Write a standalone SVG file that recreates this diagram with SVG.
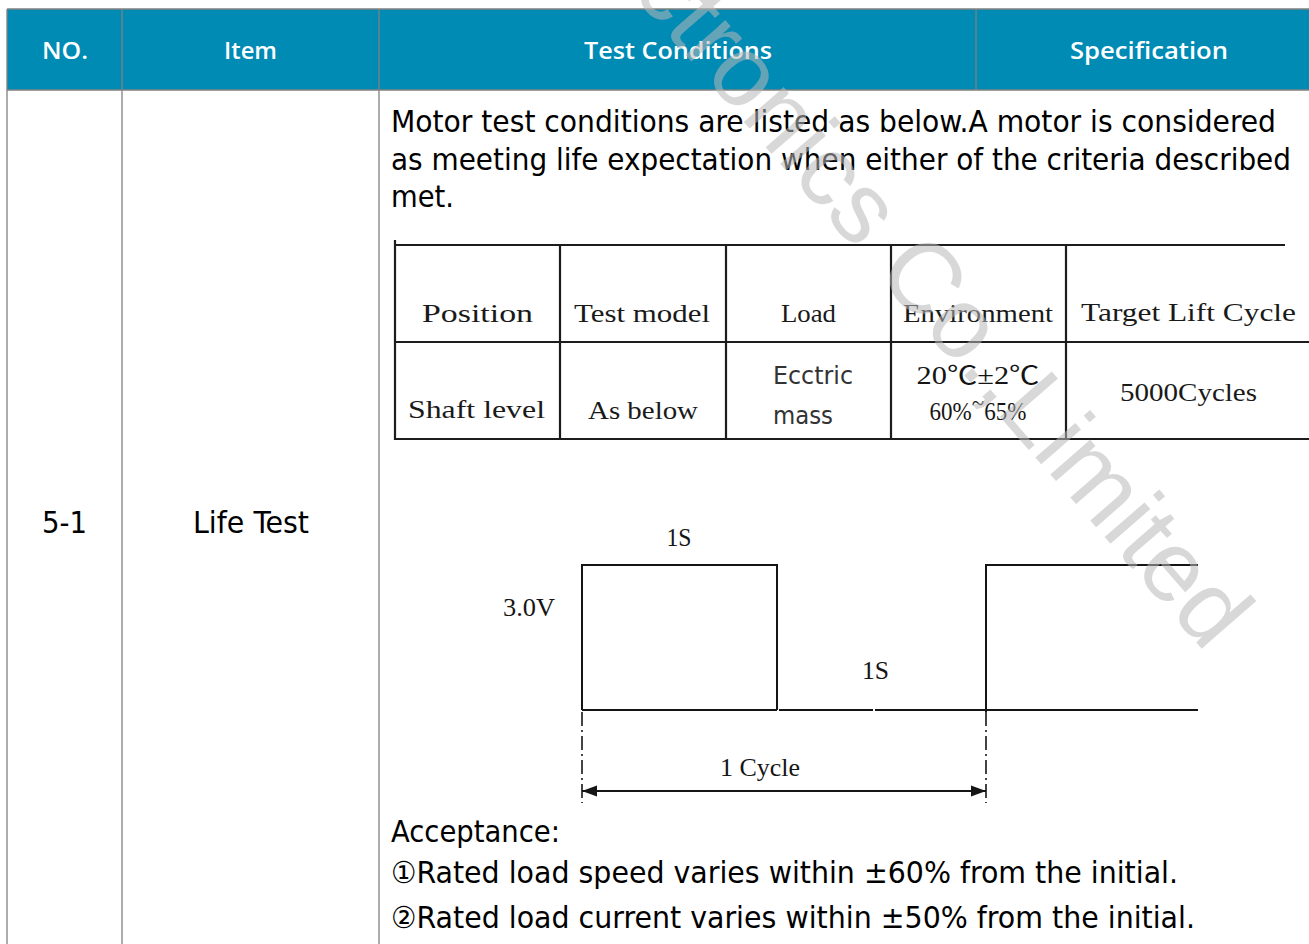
<svg xmlns="http://www.w3.org/2000/svg" width="1309" height="944" viewBox="0 0 1309 944">
  <defs>
    <style>
      .hdr { font-family: "Open Sans", "Liberation Sans", sans-serif; font-weight: 600; font-size: 24px; fill: #ffffff; text-anchor: middle; }
      .body { font-family: "DejaVu Sans Condensed", "DejaVu Sans", "Noto Sans CJK SC", sans-serif; font-size: 30px; fill: #000000; }
      .mono { font-family: "Liberation Serif", "Noto Sans CJK SC", serif; font-size: 26px; fill: #1a1a1a; text-anchor: middle; }
      .serif { font-family: "Liberation Serif", "Noto Sans CJK SC", serif; font-size: 25px; fill: #151515; text-anchor: middle; }
      .sans { font-family: "DejaVu Sans Condensed", "DejaVu Sans", sans-serif; font-size: 24px; fill: #333333; }
      .grid { stroke: #808080; stroke-width: 1.3; fill: none; }
      .rule { stroke: #1c1c1c; stroke-width: 2.2; fill: none; }
      .ink { stroke: #151515; stroke-width: 2; fill: none; }
      .dashdot { stroke: #151515; stroke-width: 1.6; fill: none; stroke-dasharray: 14 4 2 4; }
      .mark { font-family: "Liberation Sans", "Open Sans", sans-serif; font-size: 100px; fill: #b8b8b8; fill-opacity: 0.55; }
    </style>
    <marker id="arrow" viewBox="0 0 15 12" markerUnits="userSpaceOnUse" markerWidth="15" markerHeight="12" refX="15" refY="6" orient="auto-start-reverse">
      <path d="M0,0.5 L15,6 L0,11.5 z" fill="#151515"/>
    </marker>
  </defs>

  <rect width="1309" height="944" fill="#ffffff"/>

  <!-- header band -->
  <g id="header">
    <rect x="7" y="9" width="1302" height="81" fill="#008bb5"/>
    <line class="grid" x1="7" y1="9" x2="1309" y2="9"/>
    <line class="grid" x1="7" y1="90" x2="1309" y2="90"/>
    <line class="grid" x1="976" y1="9" x2="976" y2="90"/>
    <text class="hdr" x="65" y="59" textLength="46" lengthAdjust="spacingAndGlyphs">NO.</text>
    <text class="hdr" x="250.5" y="59" textLength="53" lengthAdjust="spacingAndGlyphs">Item</text>
    <text class="hdr" x="678" y="59" textLength="188" lengthAdjust="spacingAndGlyphs">Test Conditions</text>
    <text class="hdr" x="1149" y="59" textLength="158" lengthAdjust="spacingAndGlyphs">Specification</text>
  </g>

  <!-- column rules of the outer table -->
  <g id="columns">
    <line class="grid" x1="7" y1="9" x2="7" y2="944"/>
    <line class="grid" x1="122" y1="9" x2="122" y2="944"/>
    <line class="grid" x1="379" y1="9" x2="379" y2="944"/>
  </g>

  <g id="row-no">
    <text class="body" x="64.5" y="533" text-anchor="middle" textLength="45" lengthAdjust="spacingAndGlyphs">5-1</text>
  </g>
  <g id="row-item">
    <text class="body" x="251" y="533" text-anchor="middle" textLength="116" lengthAdjust="spacingAndGlyphs">Life Test</text>
  </g>

  <!-- intro paragraph -->
  <g id="intro">
    <text class="body" x="391" y="132" textLength="885" lengthAdjust="spacingAndGlyphs">Motor test conditions are listed as below.A motor is considered</text>
    <text class="body" x="391" y="170" textLength="900" lengthAdjust="spacingAndGlyphs">as meeting life expectation when either of the criteria described</text>
    <text class="body" x="391" y="207" textLength="63" lengthAdjust="spacingAndGlyphs">met.</text>
  </g>

  <!-- test condition table -->
  <g id="condition-table">
    <line class="rule" x1="395" y1="245" x2="1285" y2="245"/>
    <line class="rule" x1="395" y1="342" x2="1309" y2="342"/>
    <line class="rule" x1="395" y1="439" x2="1309" y2="439"/>
    <line class="rule" x1="395" y1="240" x2="395" y2="440"/>
    <line class="rule" x1="560" y1="245" x2="560" y2="440"/>
    <line class="rule" x1="726" y1="245" x2="726" y2="440"/>
    <line class="rule" x1="891" y1="245" x2="891" y2="440"/>
    <line class="rule" x1="1066" y1="245" x2="1066" y2="440"/>

    <text class="mono" x="477.5" y="322" textLength="111" lengthAdjust="spacingAndGlyphs">Position</text>
    <text class="mono" x="642" y="322" textLength="136" lengthAdjust="spacingAndGlyphs">Test model</text>
    <text class="mono" x="808.5" y="322" textLength="55" lengthAdjust="spacingAndGlyphs">Load</text>
    <text class="mono" x="978" y="322" textLength="150" lengthAdjust="spacingAndGlyphs">Environment</text>
    <text class="mono" x="1188.5" y="321" textLength="215" lengthAdjust="spacingAndGlyphs">Target Lift Cycle</text>

    <text class="mono" x="476.5" y="418" textLength="137" lengthAdjust="spacingAndGlyphs">Shaft level</text>
    <text class="mono" x="643" y="419" textLength="110" lengthAdjust="spacingAndGlyphs">As below</text>
    <text class="sans" x="773" y="384" textLength="80" lengthAdjust="spacingAndGlyphs">Ecctric</text>
    <text class="sans" x="773" y="424" textLength="60" lengthAdjust="spacingAndGlyphs">mass</text>
    <text class="serif" x="978" y="384" font-size="24" textLength="123" lengthAdjust="spacingAndGlyphs">20℃±2℃</text>
    <text class="serif" x="978" y="420" font-size="24" textLength="97" lengthAdjust="spacingAndGlyphs">60%<tspan dy="-9">~</tspan><tspan dy="9">65%</tspan></text>
    <text class="mono" x="1188.5" y="401" textLength="137" lengthAdjust="spacingAndGlyphs">5000Cycles</text>
  </g>

  <!-- on/off drive waveform -->
  <g id="waveform">
    <path class="ink" d="M582,710 V565 H777 V710"/>
    <path class="ink" d="M986,712 V565 H1198"/>
    <line class="ink" x1="582" y1="710" x2="777" y2="710"/>
    <line class="ink" x1="779" y1="710" x2="873" y2="710"/>
    <line class="ink" x1="875" y1="710" x2="1198" y2="710"/>
    <text class="serif" x="679" y="546" textLength="25" lengthAdjust="spacingAndGlyphs">1S</text>
    <text class="serif" x="529" y="616" textLength="52" lengthAdjust="spacingAndGlyphs">3.0V</text>
    <text class="serif" x="875.5" y="679" textLength="27" lengthAdjust="spacingAndGlyphs">1S</text>
  </g>

  <!-- cycle dimension -->
  <g id="connectors">
    <line class="dashdot" x1="582" y1="712" x2="582" y2="803"/>
    <line class="dashdot" x1="986" y1="712" x2="986" y2="803"/>
    <line class="ink" x1="582" y1="791" x2="986" y2="791" marker-start="url(#arrow)" marker-end="url(#arrow)"/>
    <text class="serif" x="760" y="776" textLength="80" lengthAdjust="spacingAndGlyphs">1 Cycle</text>
  </g>

  <!-- acceptance criteria -->
  <g id="acceptance">
    <text class="body" x="391" y="842" textLength="169" lengthAdjust="spacingAndGlyphs">Acceptance:</text>
    <text class="body" x="391" y="883" textLength="787" lengthAdjust="spacingAndGlyphs">①Rated load speed varies within ±60% from the initial.</text>
    <text class="body" x="391" y="928" textLength="804" lengthAdjust="spacingAndGlyphs">②Rated load current varies within ±50% from the initial.</text>
  </g>

  <!-- diagonal watermark -->
  <g id="watermark">
    <text class="mark" transform="translate(630,-9) rotate(49)">ctronics Co.,Limited</text>
  </g>
</svg>
